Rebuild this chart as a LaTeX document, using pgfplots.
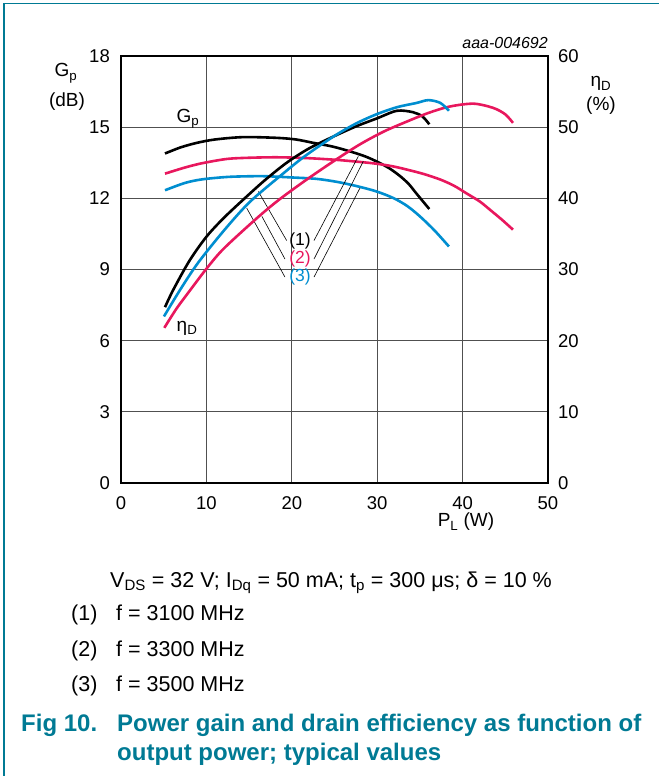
\documentclass[border=0pt]{standalone}
\usepackage{fontspec}
\setmainfont{Liberation Sans}
\usepackage{pgfplots}
\pgfplotsset{compat=1.18}
\definecolor{nxpred}{RGB}{232,23,93}
\definecolor{nxpblue}{RGB}{0,142,208}
\definecolor{nxpteal}{RGB}{0,122,148}
\definecolor{gridgray}{RGB}{80,80,80}
\newcommand{\fsz}[2]{\fontsize{#1bp}{#2bp}\selectfont}

\pgfplotstableread{
x y
5.15 13.89
7.0 14.15
8.9 14.34
11.0 14.48
14.3 14.58
18.2 14.55
20.5 14.48
22.5 14.34
24.8 14.18
26.8 13.98
28.5 13.78
29.9 13.56
31.4 13.27
32.7 12.93
33.7 12.60
34.6 12.20
36.1 11.55
}\gpone
\pgfplotstableread{
x y
5.15 13.04
7.5 13.30
9.5 13.48
12.4 13.66
15.0 13.71
18.2 13.73
21.5 13.70
24.9 13.63
27.5 13.55
29.9 13.46
31.8 13.35
33.5 13.21
35.5 13.02
37.4 12.79
39.0 12.53
40.5 12.20
42.0 11.87
43.2 11.52
44.6 11.10
45.9 10.68
}\gptwo
\pgfplotstableread{
x y
5.15 12.34
7.5 12.65
9.5 12.80
12.4 12.90
15.0 12.93
17.1 12.93
20.0 12.88
22.9 12.82
25.5 12.68
28.0 12.48
30.0 12.28
31.9 12.01
33.5 11.68
35.0 11.24
36.7 10.65
38.4 9.97
}\gpthree
\pgfplotstableread{
x y
5.15 24.7
6.1 27.1
8.0 31.2
10.0 34.6
12.0 37.2
14.3 39.8
16.8 42.5
19.4 45.0
22.0 47.0
24.9 48.7
27.5 50.1
29.9 51.2
32.3 52.3
34.2 52.1
35.3 51.5
36.1 50.4
}\etaone
\pgfplotstableread{
x y
5.07 21.8
6.5 24.5
8.1 27.1
10.0 30.1
12.0 32.9
15.9 37.2
18.5 39.8
21.7 42.6
25.0 45.3
28.0 47.6
30.8 49.4
33.5 50.8
36.0 52.0
38.5 52.9
41.3 53.3
43.6 52.7
45.0 51.8
45.9 50.6
}\etatwo
\pgfplotstableread{
x y
5.03 23.4
6.9 27.1
9.0 30.9
12.0 35.4
15.0 39.4
18.6 43.1
21.5 45.9
24.9 48.7
27.5 50.5
29.9 51.8
32.3 52.8
34.6 53.4
36.0 53.8
37.4 53.4
38.4 52.3
}\etathree

\begin{document}
\begin{tikzpicture}
\useasboundingbox (0,0) rectangle (659bp,776bp);

\begin{axis}[
  at={(121bp,293bp)}, anchor=south west, scale only axis,
  width=427bp, height=427bp,
  xmin=0, xmax=50, ymin=0, ymax=18,
  xtick={0,10,...,50}, ytick={0,3,...,18},
  grid=major, major grid style={gridgray, line width=1.1bp},
  axis line style={black, line width=1.1bp},
  major tick length=0pt,
  /pgf/number format/assume math mode=true,
  ticklabel style={font=\fsz{18.5}{21}, inner sep=0pt},
  xticklabel style={yshift=-13bp},
  yticklabel style={xshift=-11bp},
  clip=false,
  every axis plot/.append style={line width=2.6bp, smooth, no markers},
]
\addplot[black] table {\gpone};
\addplot[nxpred] table {\gptwo};
\addplot[nxpblue] table {\gpthree};
% leaders
\draw[black, line width=0.6bp] (axis cs:19.4,10.22) -- (axis cs:16.08,12.29);
\draw[black, line width=0.6bp] (axis cs:19.2,9.44) -- (axis cs:16.5,11.24);
\draw[black, line width=0.6bp] (axis cs:19.2,8.68) -- (axis cs:14.72,11.59);
\draw[black, line width=0.6bp] (axis cs:22.6,10.22) -- (axis cs:27.79,13.77);
\draw[black, line width=0.6bp] (axis cs:22.6,9.44) -- (axis cs:28.37,13.56);
\draw[black, line width=0.6bp] (axis cs:22.6,8.68) -- (axis cs:27.99,12.44);
\node[font=\fsz{17.5}{20}, inner sep=0pt] at (axis cs:20.96,10.22) {(1)};
\node[font=\fsz{17.5}{20}, inner sep=0pt, text=nxpred] at (axis cs:20.96,9.44) {(2)};
\node[font=\fsz{17.5}{20}, inner sep=0pt, text=nxpblue] at (axis cs:20.96,8.68) {(3)};
\node[font=\fsz{19}{22}, inner sep=0pt, anchor=base west] at (axis cs:6.5,15.2) {G\textsubscript{p}};
\node[font=\fsz{19}{22}, inner sep=0pt, anchor=base west] at (axis cs:6.5,6.4) {η\textsubscript{D}};
\end{axis}

\begin{axis}[
  at={(121bp,293bp)}, anchor=south west, scale only axis,
  width=427bp, height=427bp,
  xmin=0, xmax=50, ymin=0, ymax=60,
  axis x line=none, axis y line*=right,
  ytick={0,10,...,60},
  axis line style={black, line width=1.1bp},
  major tick length=0pt,
  /pgf/number format/assume math mode=true,
  ticklabel style={font=\fsz{18.5}{21}, inner sep=0pt},
  yticklabel style={xshift=10bp},
  every axis plot/.append style={line width=2.6bp, smooth, no markers},
]
\addplot[black] table {\etaone};
\addplot[nxpred] table {\etatwo};
\addplot[nxpblue] table {\etathree};
\end{axis}

\begin{scope}[x=1bp, y=-1bp, yshift=776bp, every node/.style={inner sep=0pt, font=\fsz{19}{22}}]
\draw[nxpteal, line width=1.5bp] (4,776) -- (4,3.5) -- (659,3.5);
\node[anchor=base] at (66,77) {G\textsubscript{p}};
\node[anchor=base] at (67,107) {(dB)};
\node[anchor=base] at (601,87) {η\textsubscript{D}};
\node[anchor=base] at (601,111) {(\%)};
\node[anchor=base] at (466,527) {P\textsubscript{L} (W)};
\node[anchor=base east, font=\fsz{16}{18}\itshape] at (548,49) {aaa-004692};
\begin{scope}[every node/.style={inner sep=0pt, font=\fsz{21.5}{24}}]
\node[anchor=base west] at (110,587.5) {V\textsubscript{DS} = 32 V; I\textsubscript{Dq} = 50 mA; t\textsubscript{p} = 300 μs; δ = 10 \%};
\node[anchor=base west] at (71,620.5) {(1)};
\node[anchor=base west] at (116,620.5) {f = 3100 MHz};
\node[anchor=base west] at (71,656.5) {(2)};
\node[anchor=base west] at (116,656.5) {f = 3300 MHz};
\node[anchor=base west] at (71,691.5) {(3)};
\node[anchor=base west] at (116,691.5) {f = 3500 MHz};
\end{scope}
\node[anchor=base west, font=\fsz{24}{27}\bfseries, text=nxpteal] at (21,732) {Fig 10.};
\node[anchor=base west, font=\fsz{24}{27}\bfseries, text=nxpteal] at (117,732) {Power gain and drain efficiency as function of};
\node[anchor=base west, font=\fsz{24}{27}\bfseries, text=nxpteal] at (117,761) {output power; typical values};
\end{scope}
\end{tikzpicture}
\end{document}
